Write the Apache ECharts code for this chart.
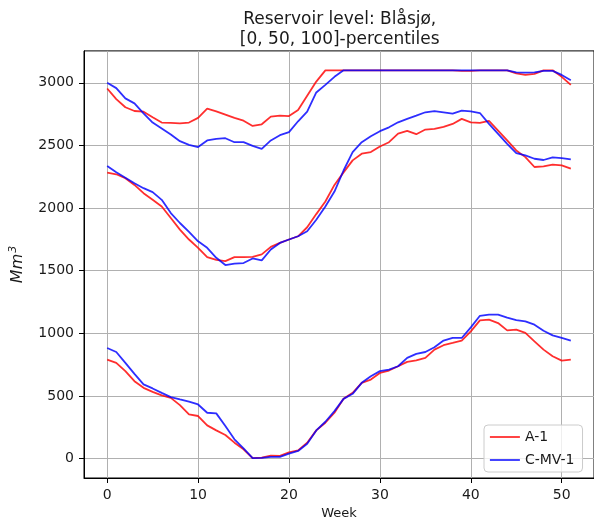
<!DOCTYPE html>
<html>
<head>
<meta charset="utf-8">
<script src="https://cdn.jsdelivr.net/npm/echarts@6/dist/echarts.min.js"></script>
<style>
  html, body { margin: 0; padding: 0; background: #ffffff; }
  #chart { width: 594px; height: 525px; }
</style>
</head>
<body>
<div id="chart"></div>
<script>
// Weekly reservoir level percentiles (Mm³) for Blåsjø, two scenarios.
const weeks = [0,1,2,3,4,5,6,7,8,9,10,11,12,13,14,15,16,17,18,19,20,21,22,23,24,25,
               26,27,28,29,30,31,32,33,34,35,36,37,38,39,40,41,42,43,44,45,46,47,48,49,50,51];

// A-1 scenario: 100th, 50th and 0th percentiles
const a1Max = [2955,2870,2805,2775,2770,2725,2683,2680,2677,2683,2720,2794,2772,2746,2720,2698,
               2656,2669,2730,2738,2735,2783,2897,3010,3100,3100,3100,3100,3100,3100,3100,3100,
               3100,3100,3100,3100,3100,3100,3100,3095,3095,3100,3100,3100,3100,3076,3063,3071,
               3100,3100,3048,2984];
const a1Med = [2283,2270,2238,2185,2119,2066,2013,1921,1828,1749,1683,1608,1587,1577,1608,1608,
               1611,1630,1690,1722,1749,1775,1847,1952,2053,2185,2285,2381,2434,2447,2492,2526,
               2595,2616,2590,2627,2632,2648,2672,2712,2685,2680,2696,2619,2540,2460,2407,2328,
               2333,2347,2341,2315];
const a1Min = [790,764,698,618,565,533,504,485,427,353,340,265,225,188,127,74,
               3,8,24,21,50,66,127,225,286,366,477,525,605,631,684,703,
               737,772,785,804,870,905,923,942,1016,1103,1109,1082,1024,1029,1003,936,
               870,817,782,790];

// C-MV-1 scenario: 100th, 50th and 0th percentiles
const cmv1Max = [3000,2958,2876,2836,2757,2683,2635,2587,2534,2505,2487,2540,2553,2558,2526,2526,
                 2497,2473,2540,2582,2606,2693,2770,2923,2984,3048,3100,3100,3100,3100,3100,3100,
                 3100,3100,3100,3100,3100,3100,3100,3100,3100,3100,3100,3100,3100,3084,3082,3084,
                 3095,3095,3063,3021];
const cmv1Med = [2336,2286,2243,2198,2159,2127,2066,1960,1881,1810,1735,1683,1603,1545,1556,1561,
                 1598,1582,1669,1722,1749,1775,1815,1907,2013,2132,2300,2447,2526,2574,2614,2645,
                 2685,2712,2738,2765,2775,2765,2754,2778,2772,2759,2672,2593,2513,2439,2421,2394,
                 2384,2405,2399,2389];
const cmv1Min = [883,851,764,676,592,560,525,491,472,454,432,366,361,260,154,82,
                 3,5,13,13,40,61,119,225,294,379,477,517,605,658,698,711,
                 737,804,836,851,889,942,963,963,1048,1140,1150,1150,1125,1105,1095,1069,
                 1021,984,963,942];

const xTicks = [0, 10, 20, 30, 40, 50];
const yTicks = [0, 500, 1000, 1500, 2000, 2500, 3000];

const RED = 'rgba(255,0,0,0.82)';
const BLUE = 'rgba(0,0,255,0.82)';
const FONT = 'DejaVu Sans';
const INK = '#1a1a1a';

function pairs(values) {
  return weeks.map((w, i) => [w, values[i]]);
}

function lineSeries(name, values, color) {
  return {
    name: name,
    type: 'line',
    data: pairs(values),
    symbol: 'none',
    showSymbol: false,
    lineStyle: { color: color, width: 1.8 },
    itemStyle: { color: color },
    emphasis: { disabled: true },
    animation: false
  };
}

const chart = echarts.init(document.getElementById('chart'), null, { renderer: 'canvas' });

chart.setOption({
  animation: false,
  backgroundColor: '#ffffff',
  textStyle: { fontFamily: FONT },
  graphic: [{
    type: 'text',
    x: 339.7,
    y: 10,
    style: {
      text: 'Reservoir level: Blåsjø,\n[0, 50, 100]-percentiles',
      fontFamily: FONT,
      fontSize: 17,
      lineHeight: 20,
      fill: INK,
      textAlign: 'center',
      textVerticalAlign: 'top'
    }
  }],
  grid: {
    left: 82.3,
    top: 50.9,
    width: 514.8,
    height: 429.6,
    show: true,
    borderColor: '#000000',
    borderWidth: 1,
    containLabel: false
  },
  legend: {
    data: ['A-1', 'C-MV-1'],
    orient: 'vertical',
    left: 484,
    top: 425,
    itemWidth: 30,
    itemHeight: 14,
    itemGap: 9,
    itemTextGap: 12,
    padding: [5, 8, 5, 5],
    backgroundColor: 'rgba(255,255,255,0.8)',
    borderColor: '#cccccc',
    borderWidth: 1,
    borderRadius: 4,
    selectedMode: false,
    itemStyle: { opacity: 0 },
    lineStyle: { width: 1.8 },
    textStyle: { fontFamily: FONT, fontSize: 14, color: INK }
  },
  xAxis: {
    type: 'value',
    min: -2.55,
    max: 53.55,
    name: 'Week',
    nameLocation: 'middle',
    nameGap: 29,
    nameTextStyle: { fontFamily: FONT, fontSize: 13, color: INK },
    axisLine: { show: true, onZero: false, lineStyle: { color: '#000000', width: 1 } },
    axisTick: { show: true, length: 5, customValues: xTicks, lineStyle: { color: '#000000' } },
    axisLabel: {
      customValues: xTicks, margin: 10, fontFamily: FONT, fontSize: 14, color: INK,
      formatter: (v) => String(v)
    },
    splitLine: { show: true, lineStyle: { color: '#b0b0b0', width: 1 } }
  },
  yAxis: {
    type: 'value',
    min: -155,
    max: 3255,
    name: '{i|Mm}{s|3}',
    nameLocation: 'middle',
    nameGap: 57,
    nameTextStyle: {
      rich: {
        i: { fontFamily: FONT, fontSize: 16, fontStyle: 'italic', color: INK },
        s: { fontFamily: FONT, fontSize: 11, fontStyle: 'italic', color: INK, verticalAlign: 'top', padding: [0, 0, 8, 1] }
      }
    },
    axisLine: { show: true, onZero: false, lineStyle: { color: '#000000', width: 1 } },
    axisTick: { show: true, length: 5, customValues: yTicks, lineStyle: { color: '#000000' } },
    axisLabel: {
      customValues: yTicks, margin: 10, fontFamily: FONT, fontSize: 14, color: INK,
      formatter: (v) => String(v)
    },
    splitLine: { show: true, lineStyle: { color: '#b0b0b0', width: 1 } }
  },
  series: [
    lineSeries('A-1', a1Max, RED),
    lineSeries('A-1', a1Med, RED),
    lineSeries('A-1', a1Min, RED),
    lineSeries('C-MV-1', cmv1Max, BLUE),
    lineSeries('C-MV-1', cmv1Med, BLUE),
    lineSeries('C-MV-1', cmv1Min, BLUE)
  ]
});
</script>
</body>
</html>
